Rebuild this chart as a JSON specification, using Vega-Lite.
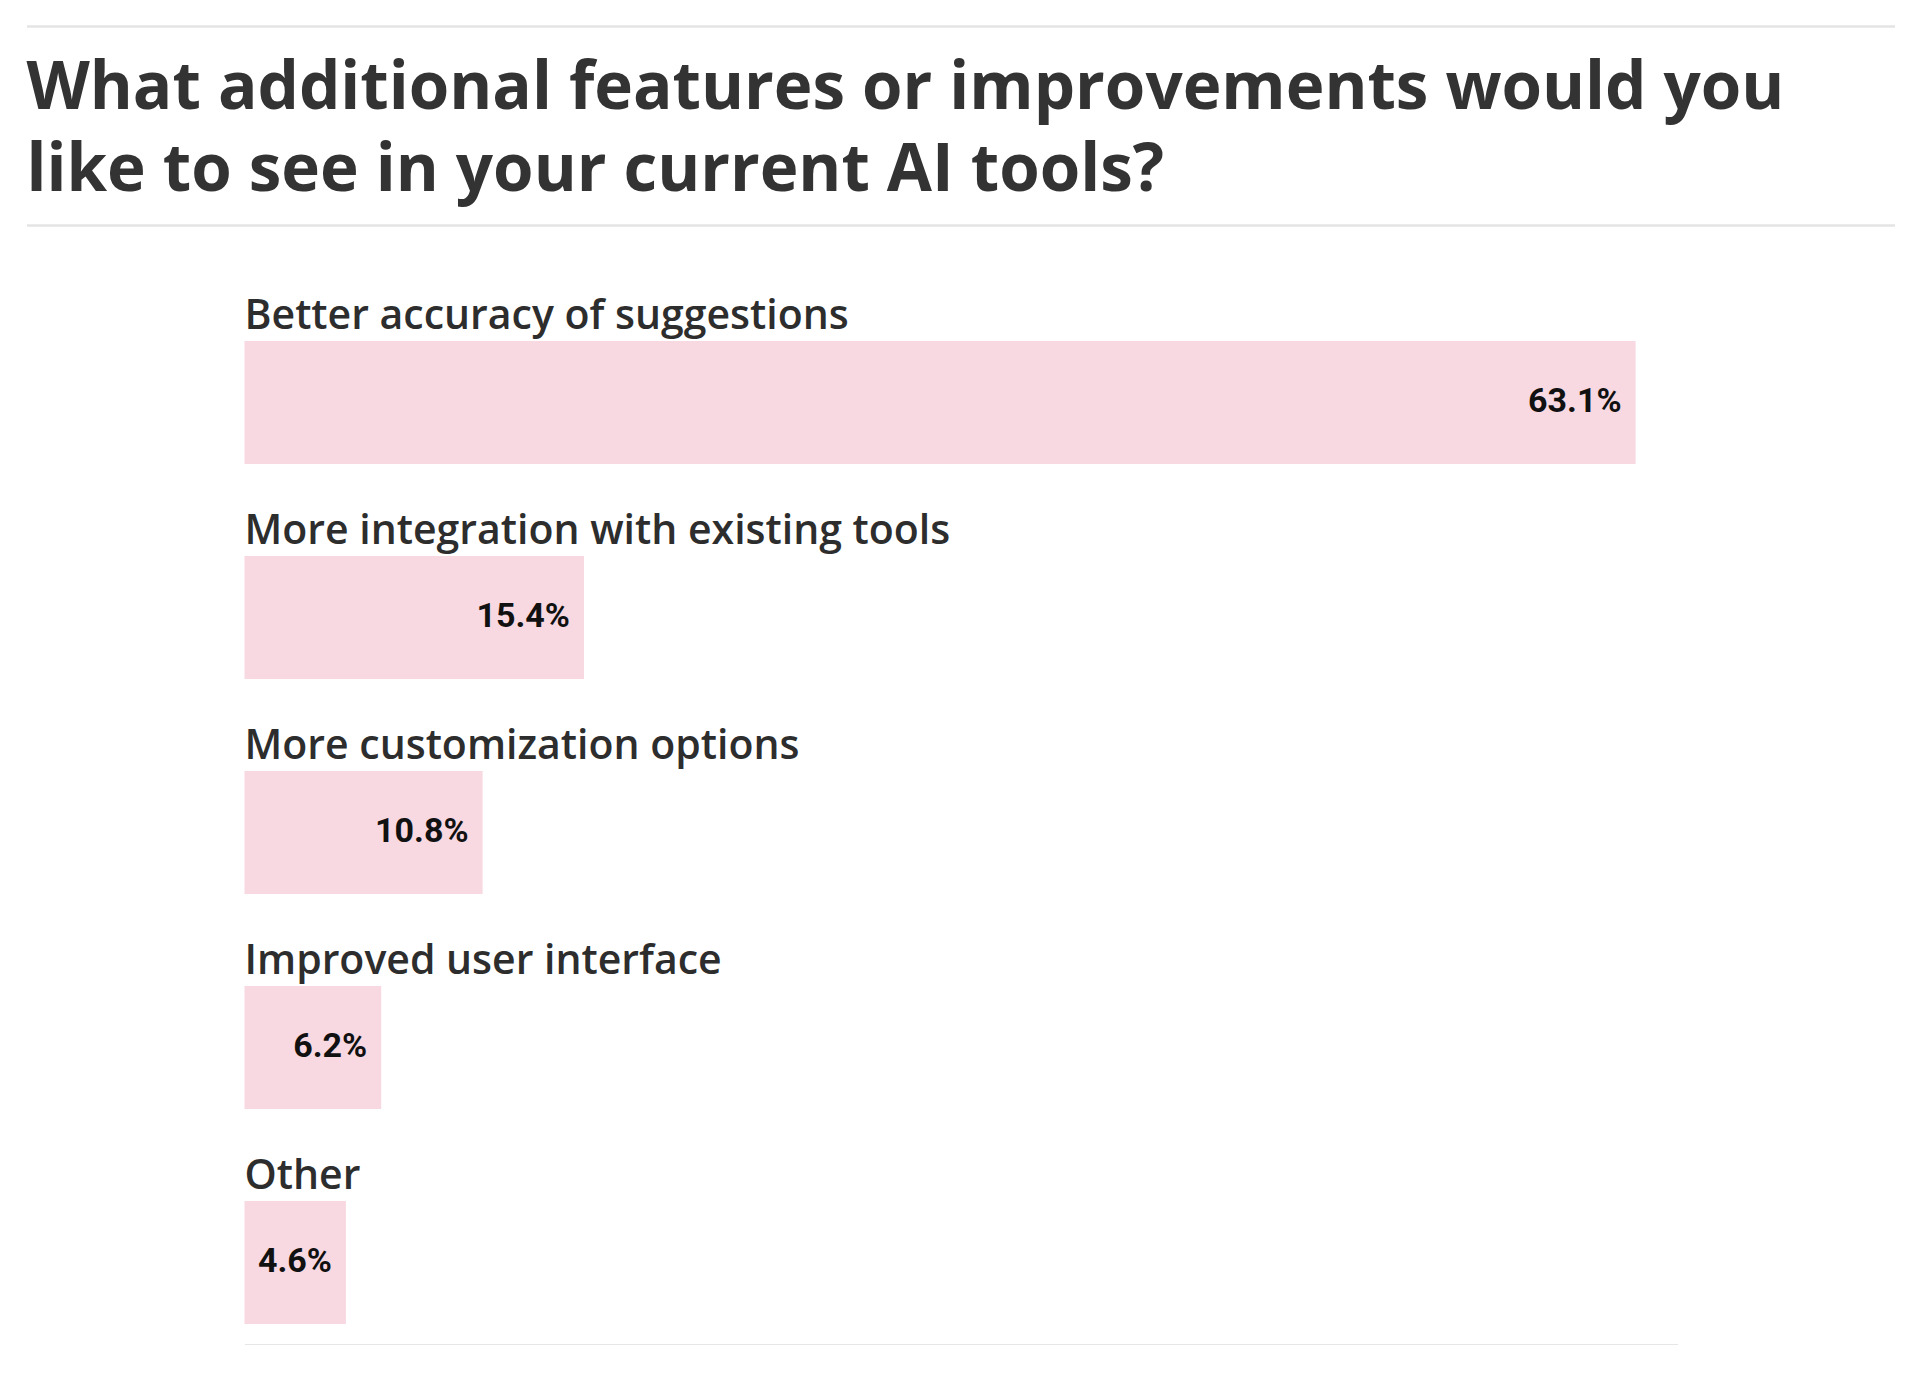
{
  "$schema": "https://vega.github.io/schema/vega-lite/v6.json",
  "background": "#ffffff",
  "padding": {"left": 24.5, "top": 24, "right": 25, "bottom": 0},
  "spacing": 63,
  "config": {"view": {"stroke": null}, "axis": {"title": null}},
  "vconcat": [
    {
      "width": 1650,
      "height": 199,
      "data": {"values": [{}]},
      "mark": {"type": "text", "align": "left", "baseline": "alphabetic", "dx": -218, "dy": 83, "font": "Open Sans", "fontSize": 65.5, "fontWeight": "bold", "lineHeight": 82, "color": "#333333"},
      "encoding": {
        "x": {"datum": 0, "type": "quantitative", "scale": {"domain": [0, 1]}, "axis": null},
        "y": {"datum": 1, "type": "quantitative", "scale": {"domain": [0, 1]}, "axis": {"values": [0, 1], "grid": true, "gridColor": "#e4e4e4", "gridWidth": 2.5, "ticks": true, "tickSize": 218, "tickColor": "#e4e4e4", "tickWidth": 2.5, "labels": false, "domain": false, "title": null, "minExtent": 218, "maxExtent": 218}},
        "text": {"value": ["What additional features or improvements would you", "like to see in your current AI tools?"]}
      }
    },
    {
      "width": 1433,
      "height": 1055,
      "data": {"values": [
        {"feature": "Better accuracy of suggestions", "pct": 0.631},
        {"feature": "More integration with existing tools", "pct": 0.154},
        {"feature": "More customization options", "pct": 0.108},
        {"feature": "Improved user interface", "pct": 0.062},
        {"feature": "Other", "pct": 0.046}
      ]},
      "encoding": {
        "y": {"field": "feature", "type": "nominal", "sort": null,
          "scale": {"paddingInner": 0.428, "paddingOuter": 0.1674, "align": 0.708},
          "axis": {"labels": false, "ticks": false, "domain": false, "grid": false, "title": null, "minExtent": 218, "maxExtent": 218}}
      },
      "layer": [
        {
          "mark": {"type": "bar", "color": "#F8D8E1"},
          "encoding": {
            "x": {"field": "pct", "type": "quantitative", "scale": {"domain": [0, 0.65]},
              "axis": {"orient": "bottom", "domain": true, "domainColor": "#e6e6e6", "domainWidth": 3, "ticks": false, "labels": false, "grid": false, "title": null}}
          }
        },
        {
          "mark": {"type": "text", "align": "left", "baseline": "alphabetic", "dy": -12, "font": "Open Sans", "fontSize": 41, "fontWeight": 600, "color": "#2d2d2d"},
          "encoding": {
            "x": {"datum": 0, "type": "quantitative"},
            "y": {"field": "feature", "type": "nominal", "sort": null, "bandPosition": 0},
            "text": {"field": "feature"}
          }
        },
        {
          "mark": {"type": "text", "align": "right", "baseline": "middle", "dx": -14, "font": "Roboto", "fontSize": 34, "fontWeight": "bold", "color": "#111111"},
          "encoding": {
            "x": {"field": "pct", "type": "quantitative"},
            "text": {"field": "pct", "type": "quantitative", "format": ".1%"}
          }
        }
      ]
    }
  ]
}
